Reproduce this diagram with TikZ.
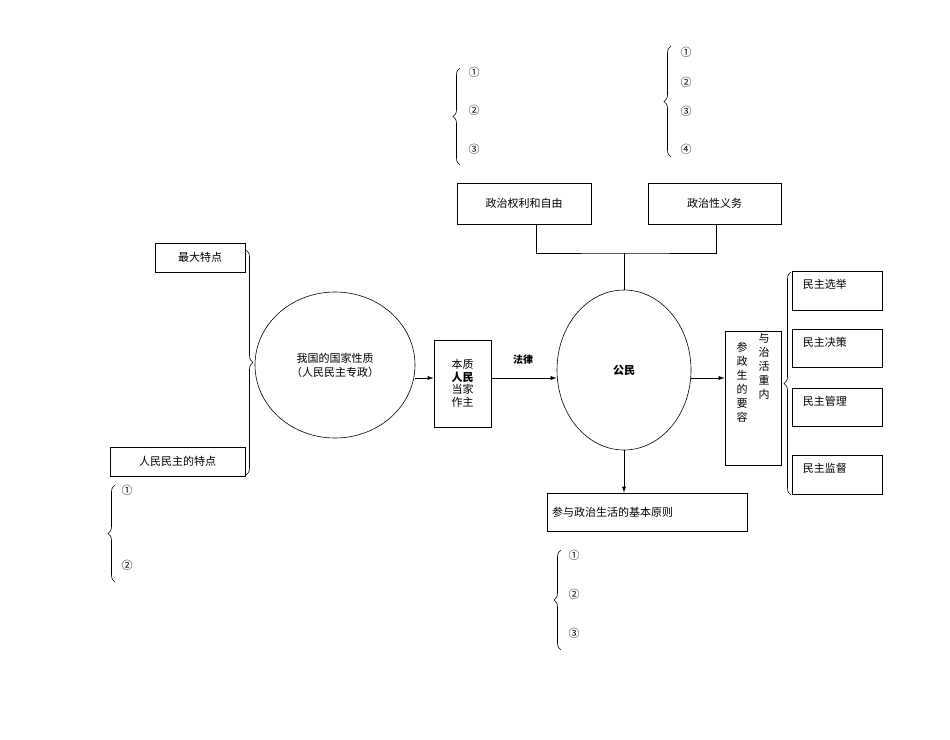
\documentclass[tikz,border=0pt]{standalone}
\usepackage{fontspec}
\setmainfont{Liberation Serif}
\newfontfamily\cjk{Noto Sans CJK SC}
\newcommand\cjkb{\cjk\bfseries}
\usetikzlibrary{decorations.pathreplacing,arrows.meta,shapes.geometric}
\begin{document}
\begin{tikzpicture}[x=1pt,y=-1pt,
  box/.style={draw,line width=0.6pt,inner sep=0pt,font=\cjk\fontsize{11}{13}\selectfont},
  txt/.style={font=\cjk\fontsize{11}{13}\selectfont,inner sep=0pt},
  num/.style={font=\cjk\fontsize{11}{13}\selectfont,inner sep=0pt},
  brc/.style={decorate,decoration={brace,amplitude=7pt},line width=0.6pt},
  arr/.style={-{Latex[length=6pt,width=4pt]},line width=0.6pt},
  ln/.style={line width=0.6pt}]
\useasboundingbox (0,0) rectangle (950,739);
% left
\node[box,minimum width=90,minimum height=29] (zd) at (200,257.5) {最大特点};
\node[box,minimum width=135,minimum height=29] (rm) at (177.5,461.5) {人民民主的特点};
\node[draw,ln,ellipse,minimum width=160,minimum height=146,inner sep=0pt,align=center,font=\cjk\fontsize{11}{14}\selectfont] (c1) at (335,365) {我国的国家性质\\（人民民主专政）};
\coordinate (b1t) at (246,250); \coordinate (b1b) at (246,475);
\draw[brc] (b1t) -- (b1b);
\node[box,minimum width=57,minimum height=87,align=center,font=\cjk\fontsize{11}{12.5}\selectfont] (bz) at (462.5,383.5) {本质\\{\cjkb 人民}\\当家\\作主};
\draw[arr] (c1.east |- 0,378) -- (bz.west |- 0,378);
\node[draw,ln,ellipse,minimum width=134,minimum height=160,inner sep=0pt,font=\cjkb\fontsize{11}{13}\selectfont] (c2) at (624,370) {公民};
\draw[arr] (bz.east |- 0,378) -- (c2.west |- 0,378);
\node[txt,font=\cjkb\fontsize{10}{12}\selectfont] (fl) at (523,360) {法律};
% top
\node[box,minimum width=134,minimum height=41] (zq) at (524,203.5) {政治权利和自由};
\node[box,minimum width=133,minimum height=41] (zy) at (714.5,203.5) {政治性义务};
\coordinate (j) at (624,253);
\draw[ln] (c2.north) -- (j);
\draw[ln] (zq.south -| 536,0) |- (j) -| (zy.south -| 716,0);
\coordinate (t1a) at (460,68); \coordinate (t1b) at (460,165);
\draw[brc] (t1b) -- (t1a);
\node[num] (n11) at (474,72) {①};
\node[num] (n12) at (474,110) {②};
\node[num] (n13) at (474,149) {③};
\coordinate (t2a) at (671,46); \coordinate (t2b) at (671,157);
\draw[brc] (t2b) -- (t2a);
\node[num] (n21) at (686,52) {①};
\node[num] (n22) at (686,82) {②};
\node[num] (n23) at (686,111) {③};
\node[num] (n24) at (686,149) {④};
% bottom
\node[box,minimum width=200,minimum height=38,text width=190,align=left] (yz) at (647,512) {参与政治生活的基本原则};
\draw[arr] (c2.south) -- (yz.north -| c2.south);
\coordinate (b3a) at (561,550); \coordinate (b3b) at (561,650);
\draw[brc] (b3b) -- (b3a);
\node[num] (n31) at (574,555) {①};
\node[num] (n32) at (574,594) {②};
\node[num] (n33) at (574,633) {③};
\coordinate (b4a) at (115,485); \coordinate (b4b) at (115,582);
\draw[brc] (b4b) -- (b4a);
\node[num] (n41) at (127,490) {①};
\node[num] (n42) at (127,565) {②};
% right
\node[draw,ln,minimum width=56,minimum height=134,inner sep=0pt] (nr) at (753,398) {};
\node[txt,align=center,font=\cjk\fontsize{11}{14}\selectfont,anchor=north] (nr1) at (764,333) {与\\治\\活\\重\\内};
\node[txt,align=center,font=\cjk\fontsize{11}{14}\selectfont,anchor=north] (nr2) at (742,342) {参\\政\\生\\的\\要\\容};
\draw[arr] (c2.east |- 0,378) -- (nr.west |- 0,378);
\coordinate (b5a) at (791,272); \coordinate (b5b) at (791,495);
\draw[brc] (b5b) -- (b5a);
\foreach \n/\y/\t in {m1/291/民主选举,m2/348.5/民主决策,m3/407.5/民主管理,m4/475/民主监督}{
  \node[box,minimum width=90,minimum height=38.5] (\n) at (837,\y) {};
  \node[txt,anchor=north west] at ([shift={(11,8)}]\n.north west) {\t};
}
\end{tikzpicture}
\end{document}
